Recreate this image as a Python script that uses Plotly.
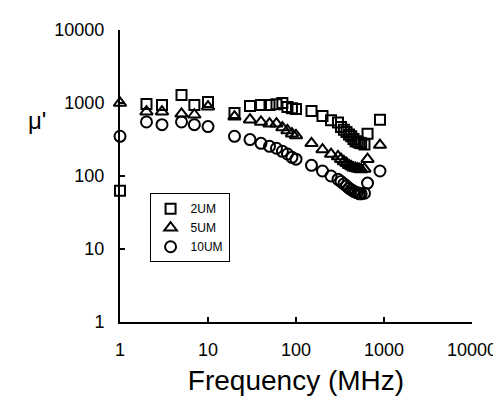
import plotly.graph_objects as go

# frequency points (MHz)
freq = [1, 2, 3, 5, 7, 10, 20, 30, 40, 50, 60, 70, 80, 90, 100,
        150, 200, 250, 300, 325, 350, 375, 400, 425, 450, 475,
        500, 525, 550, 600, 650, 900]

# mu' values
mu_2um = [63, 970, 940, 1290, 940, 1030, 730, 910, 940, 940, 960, 1000, 880, 850, 830,
          780, 665, 580, 540, 470, 430, 400, 370, 350, 320, 300,
          295, 285, 280, 270, 380, 590]
mu_5um = [1000, 760, 760, 710, 690, 890, 650, 590, 550, 520, 520, 460, 420, 380, 360,
          280, 230, 200, 185, 170, 158, 150, 140, 135, 130, 128,
          126, 124, 123, 125, 170, 265]
mu_10um = [350, 550, 505, 550, 505, 475, 350, 315, 280, 255, 240, 218, 200, 180, 170,
           140, 117, 100, 90, 84, 78, 73, 68, 65, 62, 60,
           59, 57, 57, 58, 80, 117]

series = [('2UM', mu_2um, 'square-open', 10),
          ('5UM', mu_5um, 'triangle-up-open', 11),
          ('10UM', mu_10um, 'circle-open', 11)]

tick_vals = [1, 10, 100, 1000, 10000]
tick_text = ['1', '10', '100', '1000', '10000']

fig = go.Figure()
for name, vals, sym, size in series:
    fig.add_trace(go.Scatter(
        x=freq, y=vals, mode='markers', name=name,
        marker=dict(symbol=sym, size=size, color='black',
                    line=dict(color='black', width=2)),
        cliponaxis=False,
    ))

axis_style = dict(
    type='log', range=[0, 4], showgrid=False, zeroline=False,
    showline=True, linecolor='black', linewidth=2,
    ticks='inside', ticklen=5, tickwidth=2, tickcolor='black',
    tickvals=tick_vals, ticktext=tick_text,
    tickfont=dict(family='Liberation Sans, Arial', size=18, color='black'),
)

fig.update_layout(
    width=501, height=401,
    margin=dict(l=112, r=32, t=15, b=87),
    plot_bgcolor='white', paper_bgcolor='white',
    font=dict(family='Liberation Sans, Arial', color='black'),
    xaxis=dict(axis_style, ticklabelstandoff=10,
               title=dict(text='Frequency (MHz)', standoff=12,
                          font=dict(size=28, color='black'))),
    yaxis=dict(axis_style, ticklabelstandoff=10),
    legend=dict(x=0.084, y=0.441, xanchor='left', yanchor='top',
                bordercolor='black', borderwidth=1, bgcolor='white',
                font=dict(size=12, color='black'), tracegroupgap=0),
    annotations=[dict(text="\u03bc'", xref='paper', yref='paper',
                      x=-0.237, y=0.689, xanchor='center', yanchor='middle',
                      showarrow=False,
                      font=dict(size=24, color='black'))],
)

fig.write_html('out.html')
